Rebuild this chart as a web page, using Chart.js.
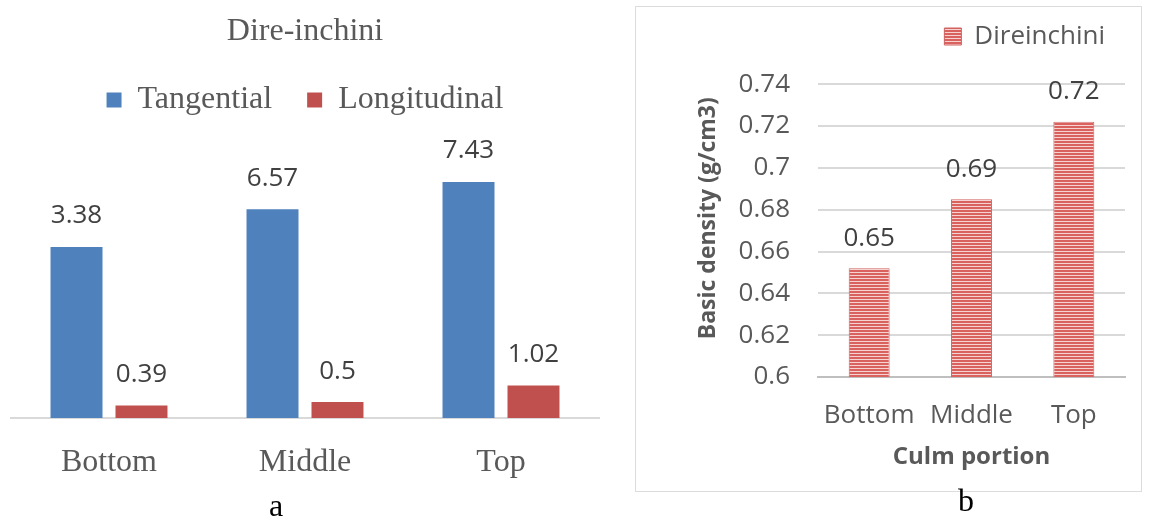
<!DOCTYPE html>
<html>
<head>
<meta charset="utf-8">
<script src="https://cdn.jsdelivr.net/npm/chart.js@4/dist/chart.umd.min.js"></script>
<style>
    html, body { margin: 0; padding: 0; background: #fff; }
    #page { position: relative; width: 1152px; height: 520px; overflow: hidden; }
    #shrink-chart { position: absolute; left: 0; top: 0; }
    #density-chart { position: absolute; left: 600px; top: 0; }
    #density-frame { position: absolute; left: 635px; top: 6px; width: 507px; height: 486px; border: 1px solid #dcdcdc; box-sizing: border-box; }
    .caption { position: absolute; font-family: 'Liberation Serif', serif; font-size: 32px; color: #000; transform: translate(-50%, -50%); line-height: 1; }
</style>
</head>
<body>
<div id="page">
    <div id="density-frame"></div>
    <canvas id="shrink-chart" width="600" height="520"></canvas>
    <canvas id="density-chart" width="552" height="520"></canvas>
    <div class="caption" style="left:276px; top:505px;">a</div>
    <div class="caption" style="left:966px; top:500px;">b</div>
</div>
<script>
// culm portions shared by both panels
const portions = ['Bottom', 'Middle', 'Top'];

// panel a: shrinkage, bar heights as drawn and the printed labels
const tangential = [5.38, 6.57, 7.43];
const tangentialLabels = ['3.38', '6.57', '7.43'];
const longitudinal = [0.39, 0.5, 1.02];
const longitudinalLabels = ['0.39', '0.5', '1.02'];

// panel b: basic density
const density = [0.652, 0.685, 0.722];
const densityLabels = ['0.65', '0.69', '0.72'];
const densityMin = 0.6;
const densityStep = 0.02;

const GREY = '#595959';
const SERIF = "'Liberation Serif', 'Times New Roman', serif";
const SANS = "'Open Sans', 'Liberation Sans', sans-serif";

// draws the printed value above each bar
const barValueLabels = {
    id: 'barValueLabels',
    afterDatasetsDraw(chart, args, opts) {
        const ctx = chart.ctx;
        ctx.save();
        ctx.font = opts.font;
        ctx.fillStyle = opts.color;
        ctx.textAlign = 'center';
        ctx.textBaseline = 'middle';
        chart.data.datasets.forEach((ds, i) => {
            chart.getDatasetMeta(i).data.forEach((bar, j) => {
                ctx.fillText(ds.valueLabels[j], bar.x, bar.y - opts.offset);
            });
        });
        ctx.restore();
    }
};

function stripePattern() {
    const c = document.createElement('canvas');
    c.width = 4;
    c.height = 3;
    const g = c.getContext('2d');
    g.fillStyle = '#f6d2d1';
    g.fillRect(0, 0, 4, 3);
    g.fillStyle = '#d9625f';
    g.fillRect(0, 0, 4, 2);
    return g.createPattern(c, 'repeat');
}

new Chart(document.getElementById('shrink-chart').getContext('2d'), {
    type: 'bar',
    data: {
        labels: portions,
        datasets: [
            {
                label: 'Tangential',
                data: tangential,
                valueLabels: tangentialLabels,
                backgroundColor: '#4f81bd',
                categoryPercentage: 0.663,
                barPercentage: 0.8
            },
            {
                label: 'Longitudinal',
                data: longitudinal,
                valueLabels: longitudinalLabels,
                backgroundColor: '#c0504d',
                categoryPercentage: 0.663,
                barPercentage: 0.8
            }
        ]
    },
    options: {
        responsive: false,
        animation: false,
        layout: { padding: { left: 11, right: 1, top: 0, bottom: 40 } },
        plugins: {
            tooltip: { enabled: false },
            title: {
                display: true,
                text: 'Dire-inchini',
                color: GREY,
                font: { family: SERIF, size: 32, weight: 'normal', lineHeight: 1 },
                padding: { top: 16, bottom: 1 }
            },
            legend: {
                position: 'top',
                labels: {
                    boxWidth: 15,
                    boxHeight: 15,
                    padding: 35,
                    color: GREY,
                    font: { family: SERIF, size: 32 }
                }
            },
            barValueLabels: { font: `26px ${SANS}`, color: '#404040', offset: 31 }
        },
        scales: {
            x: {
                grid: { display: false },
                border: { color: '#d9d9d9', width: 2 },
                ticks: { color: GREY, font: { family: SERIF, size: 32 }, padding: 17 },
                afterFit: axis => { axis.height = 62; }
            },
            y: { display: false, min: 0, max: 9.19 }
        }
    },
    plugins: [barValueLabels]
});

new Chart(document.getElementById('density-chart').getContext('2d'), {
    type: 'bar',
    data: {
        labels: portions,
        datasets: [{
            label: 'Direinchini',
            data: density,
            valueLabels: densityLabels,
            backgroundColor: stripePattern(),
            borderColor: '#d0605d',
            borderWidth: 1,
            categoryPercentage: 1,
            barPercentage: 0.4
        }]
    },
    options: {
        responsive: false,
        animation: false,
        layout: { padding: { left: 91, right: 27, top: 3.5, bottom: 44 } },
        plugins: {
            tooltip: { enabled: false },
            legend: {
                position: 'top',
                align: 'end',
                labels: {
                    boxWidth: 17,
                    boxHeight: 17,
                    padding: 20,
                    color: GREY,
                    font: { family: SANS, size: 26 }
                }
            },
            barValueLabels: { font: `26px ${SANS}`, color: '#404040', offset: 30 }
        },
        scales: {
            x: {
                grid: { display: false },
                border: { color: '#bfbfbf', width: 2 },
                ticks: { color: GREY, font: { family: SANS, size: 26 }, padding: 14.5 },
                title: {
                    display: true,
                    text: 'Culm portion',
                    color: GREY,
                    font: { family: SANS, size: 24, weight: 'bold' },
                    padding: { top: 4, bottom: 4 }
                },
                afterFit: axis => { axis.height = 99; }
            },
            y: {
                min: densityMin,
                max: 0.7518,
                border: { display: false },
                grid: { color: '#d9d9d9', lineWidth: 2, drawTicks: false },
                ticks: {
                    stepSize: densityStep,
                    includeBounds: false,
                    padding: 28,
                    color: GREY,
                    font: { family: SANS, size: 26 },
                    callback: v => String(Number(v.toFixed(2)))
                },
                title: {
                    display: true,
                    text: 'Basic density (g/cm3)',
                    color: GREY,
                    font: { family: SANS, size: 23, weight: 'bold' },
                    padding: { top: 4, bottom: 4 }
                },
                afterFit: axis => { axis.width = 127; }
            }
        }
    },
    plugins: [barValueLabels]
});
</script>
</body>
</html>
